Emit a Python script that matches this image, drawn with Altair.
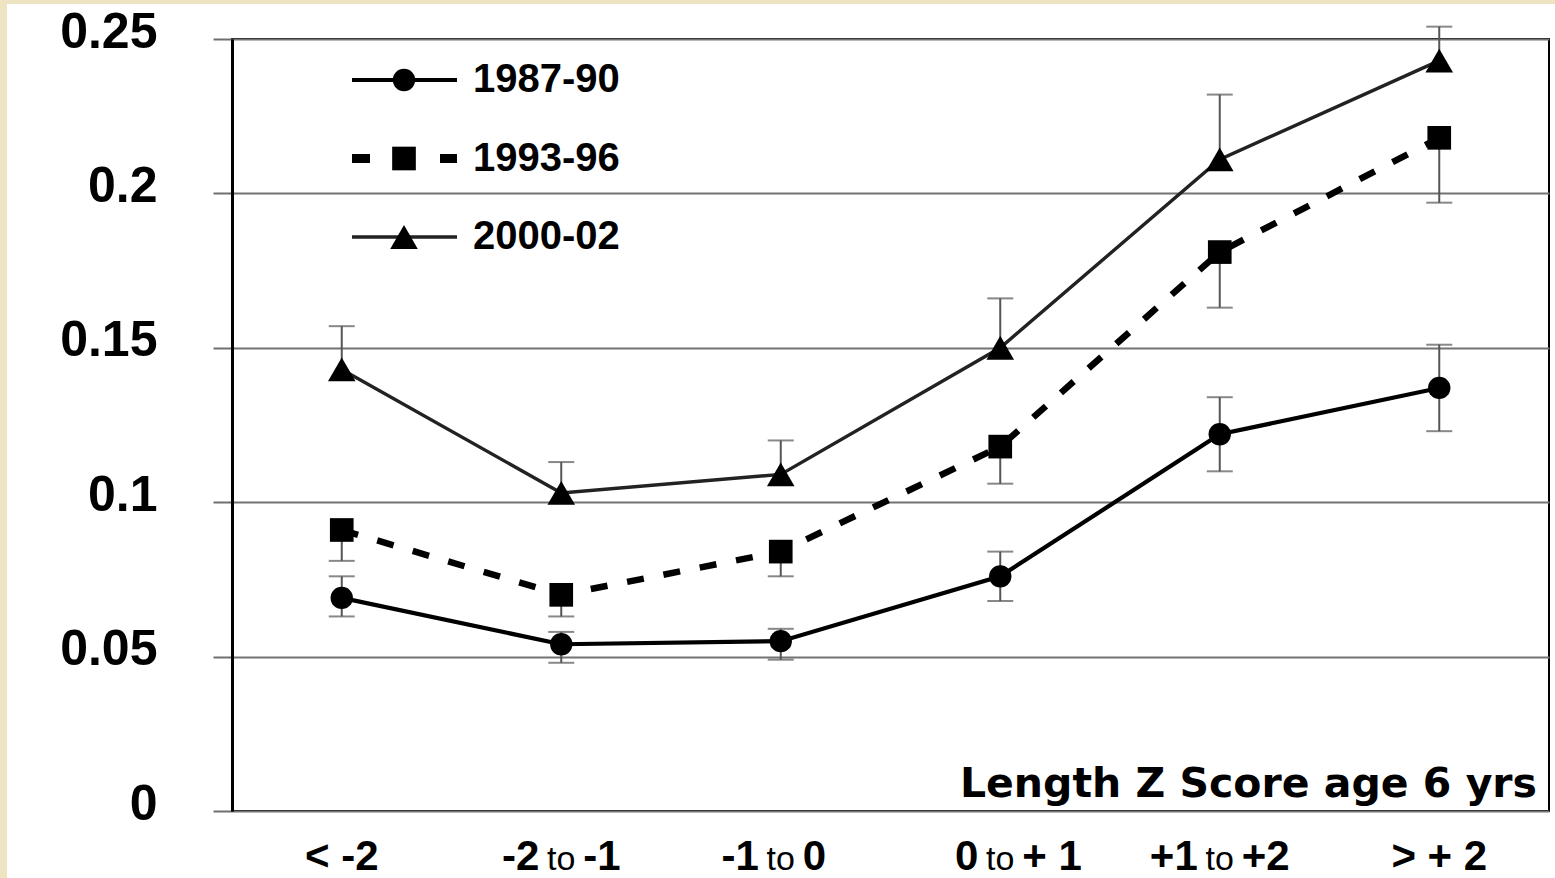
import altair as alt
import pandas as pd

# Length Z score groups at age 6
categories = ["< -2", "-2 to -1", "-1 to 0", "0 to + 1", "+1 to +2", "> + 2"]
series_names = ["1987-90", "1993-96", "2000-02"]

# Mean values and error-bar ends per survey period (None = no whisker on that side)
rate_1987 = [0.069, 0.054, 0.055, 0.076, 0.122, 0.137]
low_1987 = [0.063, 0.048, 0.049, 0.068, 0.110, 0.123]
high_1987 = [0.076, 0.058, 0.059, 0.084, 0.134, 0.151]

rate_1993 = [0.091, 0.070, 0.084, 0.118, 0.181, 0.218]
low_1993 = [0.081, 0.063, 0.076, 0.106, 0.163, 0.197]
high_1993 = [None, None, None, None, None, None]

rate_2000 = [0.143, 0.103, 0.109, 0.150, 0.211, 0.243]
low_2000 = [None, None, None, None, None, None]
high_2000 = [0.157, 0.113, 0.120, 0.166, 0.232, 0.254]

y_ticks = [0, 0.05, 0.1, 0.15, 0.2, 0.25]
title_text = "Length Z Score age 6 yrs"

W, H = 1317, 772

rows, caps = [], []
for name, vals, lows, highs in [
    ("1987-90", rate_1987, low_1987, high_1987),
    ("1993-96", rate_1993, low_1993, high_1993),
    ("2000-02", rate_2000, low_2000, high_2000),
]:
    for cat, v, lo, hi in zip(categories, vals, lows, highs):
        rows.append({"group": cat, "series": name, "value": v,
                     "lo": v if lo is None else lo, "hi": v if hi is None else hi})
        for end in (lo, hi):
            if end is not None:
                caps.append({"group": cat, "series": name, "end": end})
df = pd.DataFrame(rows)
caps_df = pd.DataFrame(caps)

label_rows = []
for cat in categories:
    if " to " in cat:
        left, right = cat.split(" to ")
        label_rows.append({"group": cat, "whole": "", "left": left, "mid": "to", "right": right})
    else:
        label_rows.append({"group": cat, "whole": cat, "left": "", "mid": "", "right": ""})
labels_df = pd.DataFrame(label_rows)

x_enc = alt.X("group:N", sort=categories,
              scale=alt.Scale(type="point", padding=0.5, domain=categories), axis=None)
y_scale = alt.Scale(domain=[0, 0.25], nice=False)
y_axis = alt.Axis(values=y_ticks, format="~g", title=None, grid=True,
                  labelFont="Liberation Sans", labelFontWeight="bold", labelFontSize=50,
                  labelColor="black", labelPadding=56, labelOffset=-7,
                  tickSize=19, tickColor="#6e6e6e", tickWidth=2,
                  domainColor="black", domainWidth=3,
                  gridColor="#737373", gridWidth=2)

base = alt.Chart(df)

bars = base.mark_rule(color="#555555", strokeWidth=2).encode(
    x=x_enc, y=alt.Y("lo:Q", scale=y_scale, axis=y_axis), y2="hi:Q")
cap_ticks = alt.Chart(caps_df).mark_tick(color="#555555", thickness=2, size=26).encode(
    x=x_enc, y=alt.Y("end:Q", scale=y_scale))

line_styles = {
    "1987-90": dict(color="black", strokeWidth=4.2),
    "1993-96": dict(color="black", strokeWidth=6.5, strokeDash=[17, 20]),
    "2000-02": dict(color="#222222", strokeWidth=3.4),
}
marker_shapes = {"1987-90": ("circle", 500), "1993-96": ("square", 560), "2000-02": ("triangle-up", 760)}

layers = [bars, cap_ticks]
for name in series_names:
    layers.append(base.transform_filter(alt.datum.series == name).mark_line(**line_styles[name]).encode(
        x=x_enc, y=alt.Y("value:Q", scale=y_scale)))
for name in series_names:
    shape, size = marker_shapes[name]
    layers.append(base.transform_filter(alt.datum.series == name).mark_point(
        shape=shape, size=size, filled=True, color="black", opacity=1).encode(
        x=x_enc, y=alt.Y("value:Q", scale=y_scale)))

# Category labels below the plot: bold bounds, regular "to"
lab = alt.Chart(labels_df)
label_y = alt.value(H + 59)
bold = dict(font="Liberation Sans", fontWeight="bold", fontSize=42, color="black", baseline="alphabetic")
layers += [
    lab.transform_filter(alt.datum.whole != "").mark_text(align="center", **bold).encode(
        x=x_enc, y=label_y, text="whole:N"),
    lab.transform_filter(alt.datum.left != "").mark_text(align="right", dx=-22, **bold).encode(
        x=x_enc, y=label_y, text="left:N"),
    lab.transform_filter(alt.datum.mid != "").mark_text(
        align="center", font="Liberation Sans", fontSize=34, color="black", baseline="alphabetic").encode(
        x=x_enc, y=label_y, text="mid:N"),
    lab.transform_filter(alt.datum.right != "").mark_text(align="left", dx=22, **bold).encode(
        x=x_enc, y=label_y, text="right:N"),
]

# In-plot legend
one = pd.DataFrame({"k": [0]})
legend_dash = {"1987-90": [1, 0], "1993-96": [18, 70], "2000-02": [1, 0]}
legend_width = {"1987-90": 4.2, "1993-96": 9, "2000-02": 3.4}
for i, name in enumerate(series_names):
    yy = alt.value(41 + 78.5 * i)
    shape, size = marker_shapes[name]
    layers.append(alt.Chart(one).mark_rule(
        color=line_styles[name]["color"], strokeWidth=legend_width[name], strokeDash=legend_dash[name]).encode(
        x=alt.value(120), x2=alt.value(225), y=yy))
    layers.append(alt.Chart(one).mark_point(
        shape=shape, size=size, filled=True, color="black", opacity=1).encode(x=alt.value(172), y=yy))
    layers.append(alt.Chart(pd.DataFrame({"t": [name]})).mark_text(
        align="left", baseline="middle", font="Liberation Sans", fontWeight="bold", fontSize=40,
        color="black").encode(x=alt.value(241), y=yy, text="t:N"))

# Panel title inside the plot, lower right
layers.append(alt.Chart(pd.DataFrame({"t": [title_text]})).mark_text(
    align="right", baseline="alphabetic", font="DejaVu Sans", fontWeight="bold", fontSize=41,
    color="black").encode(x=alt.value(W - 12), y=alt.value(H - 14), text="t:N"))

# Beige page edge on the left and top
layers.append(alt.Chart(one).mark_rect(color="#EEE4C2").encode(
    x=alt.value(-232), x2=alt.value(-225), y=alt.value(-39), y2=alt.value(H + 67)))
layers.append(alt.Chart(one).mark_rect(color="#EEE4C2").encode(
    x=alt.value(-232), x2=alt.value(W + 6), y=alt.value(-39), y2=alt.value(-35)))

chart = alt.layer(*layers).properties(
    width=W, height=H,
    autosize=alt.AutoSizeParams(type="none"),
    padding={"left": 232, "top": 39, "right": 6, "bottom": 67},
    background="white",
).configure_view(stroke="black", strokeWidth=2)

chart.save("out.html", embed_options={"renderer": "svg", "actions": False})
